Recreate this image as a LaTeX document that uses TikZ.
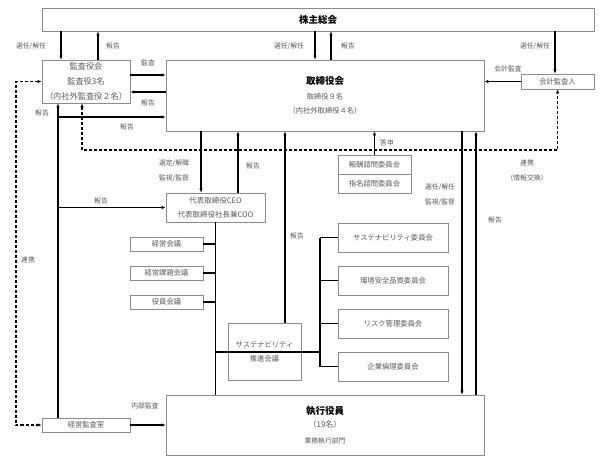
\documentclass[tikz,border=0pt]{standalone}
\usepackage{fontspec}
\setmainfont{Noto Sans CJK JP}
\usepackage{xcolor}
\usetikzlibrary{arrows.meta}

\definecolor{boxgray}{HTML}{8C8C8C}
\definecolor{txtgray}{HTML}{595959}
\newcommand{\hdfont}{\bfseries\color{black}\fontsize{9.5}{11}\selectfont}

\begin{document}
\begin{tikzpicture}[x=1pt,y=-1pt,
        box/.style={draw=boxgray,line width=0.8pt,fill=white,text=txtgray,inner sep=0pt,align=center,
                    font=\fontsize{7.3}{14}\selectfont},
        small/.style={box,minimum width=73pt,minimum height=14pt},
        iinkai/.style={box,minimum width=110pt,minimum height=29pt},
        lbl/.style={text=txtgray,inner sep=0pt,align=center,font=\fontsize{6.8}{15}\selectfont},
        conn/.style={line width=1.1pt},
        arr/.style={conn,-{Latex[length=4pt,width=3.5pt]}},
        linkline/.style={line width=1.1pt,dash pattern=on 3pt off 2pt,{Latex[length=4pt,width=3.5pt]}-{Latex[length=4pt,width=3.5pt]}}
        ]
        \useasboundingbox (0,0) rectangle (602,460);
        % x positions of the vertical connectors
        \coordinate (xkan) at (61,0);
        \coordinate (xkanup) at (98,0);
        \coordinate (xtor) at (315,0);
        \coordinate (xtorup) at (331,0);
        \coordinate (xkai) at (555,0);
        \coordinate (xrep) at (58,0);
        \coordinate (xdash) at (82,0);
        \coordinate (xlink) at (16,0);
        \coordinate (xsel) at (201,0);
        \coordinate (xceoup) at (238,0);
        \coordinate (xsus) at (285,0);
        \coordinate (xbus) at (320,0);
        \coordinate (xexe) at (462,0);
        \coordinate (xexeup) at (476,0);
        % y positions of the horizontal connectors
        \coordinate (ykansa) at (0,75);
        \coordinate (yrepA) at (0,92);
        \coordinate (yrepB) at (0,117);
        \coordinate (ydash) at (0,150);

        % boxes
        \node[box,minimum width=552pt,minimum height=23pt] (soukai) at (318,19.5) {\hdfont 株主総会};
        \node[box,minimum width=88pt,minimum height=43pt,font=\fontsize{8.2}{15}\selectfont] (kansayaku) at (86,81.5)
          {監査役会\\監査役3名\\（内社外監査役２名）};
        \node[box,minimum width=318pt,minimum height=71pt] (torishimari) at (325,95.5)
          {{\hdfont 取締役会}\\[1pt]取締役９名\\（内社外取締役４名）};
        \node[box,minimum width=73pt,minimum height=15pt] (kaikei) at (557.5,81.5) {会計監査人};
        \node[box,minimum width=99pt,minimum height=29pt,font=\fontsize{7.5}{14}\selectfont] (ceo) at (215.5,207.5)
          {代表取締役CEO\\代表取締役社長兼COO};
        \node[box,minimum width=73pt,minimum height=19pt] (housyu) at (374.5,164.5) {報酬諮問委員会};
        \node[box,minimum width=73pt,minimum height=19pt] (shimei) at (374.5,183.5) {指名諮問委員会};
        \node[small] (keiei) at (166.5,244) {経営会議};
        \node[small] (kadai) at (166.5,273) {経営課題会議};
        \node[small] (yakuin) at (166.5,302) {役員会議};
        \node[box,minimum width=73pt,minimum height=57pt] (suishin) at (264.5,352) {サステナビリティ\\推進会議};
        \node[iinkai] (sus) at (393,237.5) {サステナビリティ委員会};
        \node[iinkai] (kankyo) at (393,280.5) {環境安全品質委員会};
        \node[iinkai] (risk) at (393,323.5) {リスク管理委員会};
        \node[iinkai] (rinri) at (393,366.5) {企業倫理委員会};
        \node[box,minimum width=318pt,minimum height=60pt] (shikkou) at (325,425)
          {{\hdfont 執行役員}\\[-1pt]{\fontsize{8}{14}\selectfont（19名）}\\[2pt]{\fontsize{6.8}{10}\selectfont 業務執行部門}};
        \node[box,minimum width=88pt,minimum height=14pt] (kansashitsu) at (86,425) {経営監査室};

        % shareholders meeting
        \draw[arr] (soukai.south -| xkan) -- (kansayaku.north -| xkan);
        \draw[arr] (kansayaku.north -| xkanup) -- (soukai.south -| xkanup);
        \draw[arr] (soukai.south -| xtor) -- (torishimari.north -| xtor);
        \draw[arr] (torishimari.north -| xtorup) -- (soukai.south -| xtorup);
        \draw[arr] (soukai.south -| xkai) -- (kaikei.north -| xkai);
        % board and auditors
        \draw[arr] (kaikei.west) -- (kaikei.west -| torishimari.east);
        \draw[arr] (kansayaku.east |- ykansa) -- (torishimari.west |- ykansa);
        \draw[arr] (torishimari.west |- yrepA) -- (kansayaku.east |- yrepA);
        \draw[arr] (kansashitsu.north -| xrep) -- (kansayaku.south -| xrep);
        \draw[arr] (xrep |- yrepB) -- (torishimari.west |- yrepB);
        \draw[arr] (xrep |- ceo.west) -- (ceo.west);
        \draw[linkline] (kansayaku.south -| xdash) -- (xdash |- ydash) -| (kaikei.south);
        \draw[linkline] (kansayaku.west) -- (kansayaku.west -| xlink) -- (kansashitsu.west -| xlink) -- (kansashitsu.west);
        \draw[arr] (kansashitsu.east) -- (kansashitsu.east -| shikkou.west);
        % board and executives
        \draw[arr] (torishimari.south -| xsel) -- (ceo.north -| xsel);
        \draw[arr] (ceo.north -| xceoup) -- (torishimari.south -| xceoup);
        \draw[arr] (housyu.north) -- (housyu.north |- torishimari.south);
        \draw[arr] (torishimari.south -| xexe) -- (shikkou.north -| xexe);
        \draw[arr] (shikkou.north -| xexeup) -- (torishimari.south -| xexeup);
        \draw[arr] (suishin.north -| xsus) -- (torishimari.south -| xsus);
        % meetings under the CEO
        \draw[conn] (ceo.south) -- (ceo.south |- shikkou.north);
        \foreach \m in {keiei,kadai,yakuin,suishin}
          \draw[conn] (\m.east) -- (\m.east -| ceo.south);
        % committees
        \draw[conn] (sus.west -| xbus) -- (rinri.west -| xbus);
        \draw[conn] (suishin.east) -- (suishin.east -| xbus);
        \foreach \c in {sus,kankyo,risk,rinri}
          \draw[conn] (\c.west -| xbus) -- (\c.west);

        % labels
        \node[lbl] (lsenA) at (31,46) {選任/解任};
        \node[lbl] (lhouA) at (113,46) {報告};
        \node[lbl] (lsenB) at (289,46) {選任/解任};
        \node[lbl] (lhouB) at (348,46) {報告};
        \node[lbl] (lsenC) at (535,46) {選任/解任};
        \node[lbl] (lkaikei) at (508,69) {会計監査};
        \node[lbl] (lkansa) at (148,63) {監査};
        \node[lbl] (lhouC) at (148,103) {報告};
        \node[lbl] (lhouD) at (42,113) {報告};
        \node[lbl] (lhouE) at (127,127) {報告};
        \node[lbl] (lrenA) at (527,170.5) {連携\\（情報交換）};
        \node[lbl] (ltoshin) at (387,143) {答申};
        \node[lbl] (lsentei) at (174,171) {選定/解職\\監視/監督};
        \node[lbl] (lhouF) at (253,166) {報告};
        \node[lbl] (lhouG) at (101,201) {報告};
        \node[lbl] (lsenD) at (440,195) {選任/解任\\監視/監督};
        \node[lbl] (lhouH) at (495,220) {報告};
        \node[lbl] (lhouI) at (297,236) {報告};
        \node[lbl] (lrenB) at (28,260) {連携};
        \node[lbl] (lnaibu) at (145,406) {内部監査};
\end{tikzpicture}
\end{document}
